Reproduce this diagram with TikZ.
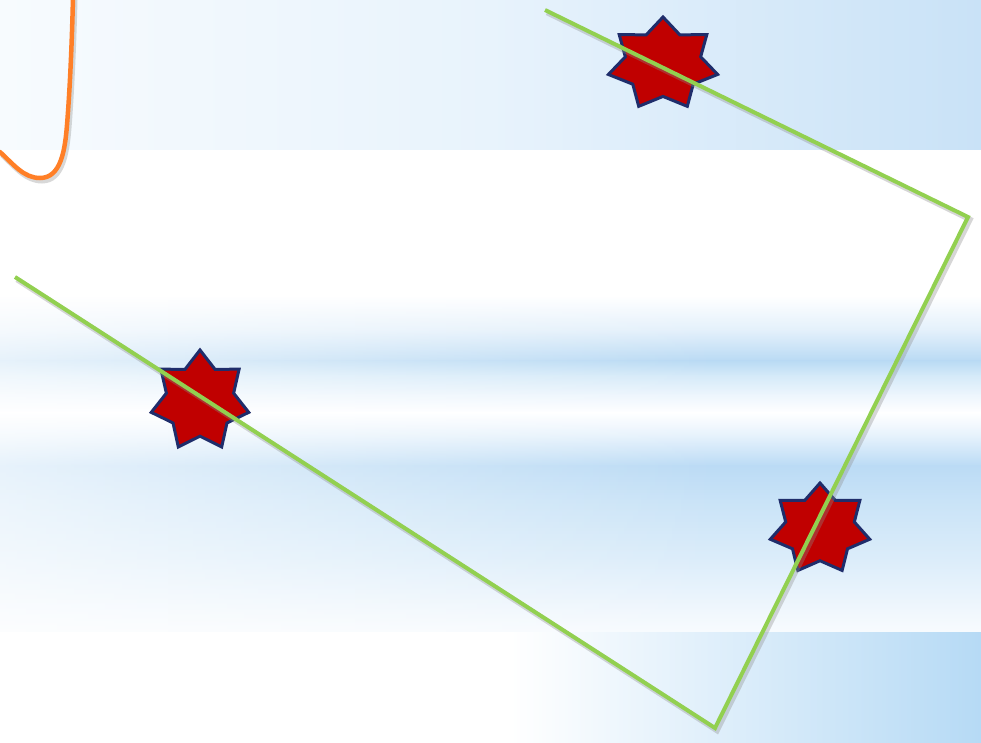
\documentclass[tikz,border=0pt]{standalone}
\usetikzlibrary{fadings}
\definecolor{topL}{HTML}{F7FBFE}
\definecolor{topM}{HTML}{E8F3FC}
\definecolor{topR}{HTML}{C9E2F7}
\definecolor{botR}{HTML}{B6DAF5}
\definecolor{mW}{HTML}{FFFFFF}
\definecolor{mA}{HTML}{E3F0FB}
\definecolor{mB}{HTML}{B9DAF4}
\definecolor{mC}{HTML}{D5EAF9}
\definecolor{mD}{HTML}{EEF6FD}
\definecolor{mE}{HTML}{E6F2FC}
\definecolor{mF}{HTML}{BBDBF5}
\definecolor{mG}{HTML}{C9E3F7}
\definecolor{mH}{HTML}{DCEDFA}
\definecolor{mI}{HTML}{F0F7FD}
\definecolor{mJ}{HTML}{F8FBFE}
\definecolor{lineGreen}{HTML}{92D050}
\definecolor{starRed}{HTML}{C00000}
\definecolor{starEdge}{HTML}{1F2D6B}
\definecolor{curveOrange}{HTML}{FF7F27}
\tikzfading[name=fadeR, left color=transparent!0, right color=transparent!100]
\newcommand\sevenstar[4]{%
  \draw[starshape] plot[variable=\k, samples at={0,...,13}]
    ({#1+#3*(1-0.31*mod(\k,2))*cos(90+\k*360/14)},
     {#2-#4*(1-0.31*mod(\k,2))*sin(90+\k*360/14)}) -- cycle;}
\begin{document}
\begin{tikzpicture}[x=1pt,y=-1pt,
  starshape/.style={fill=starRed, draw=starEdge, line width=3pt, line join=miter},
  greenline/.style={draw=lineGreen, line width=4pt, line join=miter},
  shadowline/.style={draw=black!45, opacity=0.35, line width=5.5pt, line join=miter},
  orangeline/.style={draw=curveOrange, line width=4.5pt, line cap=round}]
\useasboundingbox (0,0) rectangle (981,742);
% top band
\fill[left color=topL, right color=topM] (0,0) rectangle (491,150.5);
\fill[left color=topM, right color=topR] (490,0) rectangle (981,150.5);
% middle band
\foreach \ya/\yb/\ca/\cb in {150/296/mW/mW, 295.5/331/mW/mA, 330.5/361/mA/mB, 360.5/376/mB/mC,
  375.5/396/mC/mD, 395.5/413/mD/mW, 412.5/436/mW/mE, 435.5/466/mE/mF, 465.5/501/mF/mG,
  500.5/561/mG/mH, 560.5/611/mH/mI, 610.5/632.5/mI/mJ}
  \fill[top color=\ca, bottom color=\cb] (0,\ya) rectangle (981,\yb);
\fill[white, opacity=0.65, path fading=fadeR] (0,290) rectangle (720,632);
% bottom band
\fill[white] (0,632) rectangle (981,742);
\fill[left color=white, right color=botR] (510,632) rectangle (981,742);
% orange curve
\coordinate (o1) at (0,152);
\coordinate (o2) at (40,178);
\coordinate (o3) at (73,-3);
\draw[draw=black!50, opacity=0.3, line width=5pt] ([shift={(2,3)}]o1) .. controls (16,168) and (26,181) .. ([shift={(2,3)}]o2)
  .. controls (63,181) and (67,152) .. (69,128) .. controls (72,90) and (74,40) .. ([shift={(2,3)}]o3);
\draw[orangeline] (o1) .. controls (14,165) and (24,178) .. (o2)
  .. controls (61,178) and (65,150) .. (67,125) .. controls (70,88) and (72,40) .. (o3);
% stars
\sevenstar{200}{401}{50}{51}
\sevenstar{663}{64}{56}{47}
\sevenstar{820}{529}{51}{46}
% green polyline
\coordinate (g1) at (15,277);
\coordinate (g2) at (715,728);
\coordinate (g3) at (968,217);
\coordinate (g4) at (545,10);
\draw[shadowline] ([shift={(2,2.5)}]g1) -- ([shift={(2,2.5)}]g2) -- ([shift={(2,2.5)}]g3) -- ([shift={(2,2.5)}]g4);
\draw[greenline] (g1) -- (g2) -- (g3) -- (g4);
\end{tikzpicture}
\end{document}
